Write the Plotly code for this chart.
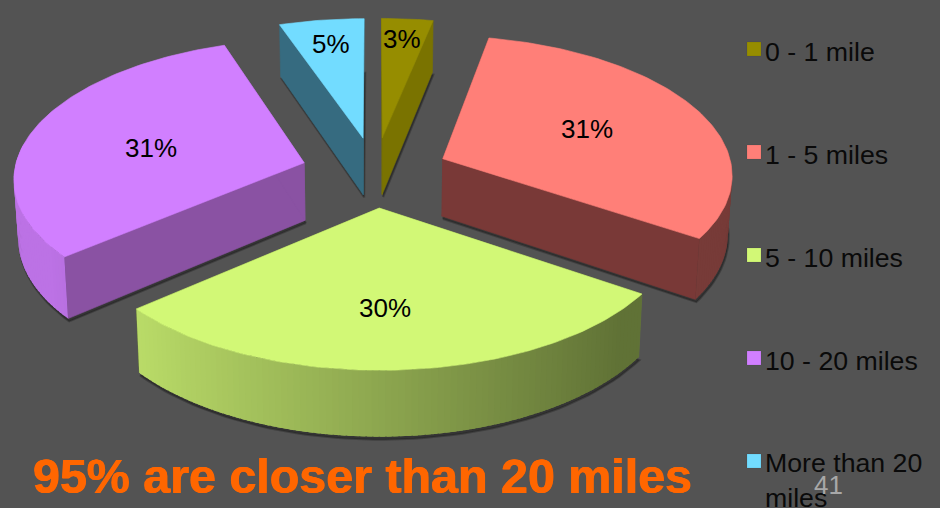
import math
import plotly.graph_objects as go

# ---- data ----
categories = ["0 - 1 mile", "1 - 5 miles", "5 - 10 miles", "10 - 20 miles", "More than 20 miles"]
shares = [3.2, 31.2, 29.4, 30.9, 5.3]
top_colors = ["#968d00", "#ff7f78", "#d2f876", "#d17fff", "#72dcff"]
radial_colors = ["#7a7300", "#793937", "#66783a", "#8a52a3", "#366b80"]
slice_labels = ["3%", "31%", "30%", "31%", "5%"]
label_x = [402, 587, 385, 151, 331]
label_y = [39, 129, 308, 148, 44]
legend_y = [49, 152, 255, 358, 461]
legend_lines = ["0 - 1 mile", "1 - 5 miles", "5 - 10 miles", "10 - 20 miles", "More than 20<br>miles"]
headline = "95% are closer than 20 miles"
page_number = "41"

BG = "#535353"
CX, CY, RX, TILT, DEPTH, EXPLODE, HEIGHT = 375, 172, 290, 138, 9.9, 0.255, 58


def project(x, y, z=0.0):
    s = DEPTH / (DEPTH - y)
    return CX + RX * x * s * (1 - 0.012 * z), CY + TILT * y * s + HEIGHT * z * s


def shade(hex_color, f):
    r, g, b = (int(hex_color[i:i + 2], 16) for i in (1, 3, 5))
    return f"rgb({int(r * f)},{int(g * f)},{int(b * f)})"


def poly(points, color, width=0.6):
    xs = [p[0] for p in points] + [points[0][0]]
    ys = [p[1] for p in points] + [points[0][1]]
    return go.Scatter(x=xs, y=ys, mode="lines", fill="toself", fillcolor=color,
                      line=dict(color=color, width=width),
                      hoverinfo="skip", showlegend=False)


fig = go.Figure()
total = sum(shares)
start = 0.0
spans = []
for v in shares:
    spans.append((start, start + v / total * 2 * math.pi))
    start = spans[-1][1]


def rim(a, ox, oy):
    return ox + math.sin(a), oy - math.cos(a)


order = [0, 4, 1, 3, 2]  # back to front
# soft contact shadows under every slice
for i in order:
    a0, a1 = spans[i]
    mid = (a0 + a1) / 2
    ox, oy = EXPLODE * math.sin(mid), -EXPLODE * math.cos(mid)
    n = max(8, int((a1 - a0) / 0.03))
    pts = [project(ox, oy, 1.03)]
    pts += [project(*rim(a0 + (a1 - a0) * k / n, ox, oy), 1.03) for k in range(n + 1)]
    fig.add_trace(go.Scatter(x=[p[0] + 1 for p in pts] + [pts[0][0] + 1],
                             y=[p[1] + 1 for p in pts] + [pts[0][1] + 1],
                             mode="lines", fill="toself", fillcolor="rgba(30,30,30,0.55)",
                             line=dict(color="rgba(30,30,30,0.35)", width=2),
                             hoverinfo="skip", showlegend=False))

for i in order:
    a0, a1 = spans[i]
    mid = (a0 + a1) / 2
    ox, oy = EXPLODE * math.sin(mid), -EXPLODE * math.cos(mid)
    # radial side walls
    for a in (a0, a1):
        ex, ey = rim(a, ox, oy)
        fig.add_trace(poly([project(ox, oy), project(ex, ey), project(ex, ey, 1), project(ox, oy, 1)],
                           radial_colors[i]))
    # curved outer wall, shaded across the view; segments overlap to hide seams
    step = 0.02
    n = max(1, int((a1 - a0) / step))
    for k in range(n):
        b0 = a0 + (a1 - a0) * k / n
        b1 = min(a1, a0 + (a1 - a0) * (k + 1) / n + 0.015)
        if -math.cos((b0 + b1) / 2) < -0.15:
            continue
        f = min(0.9, max(0.46, 0.67 - 0.28 * math.sin((b0 + b1) / 2)))
        if i == 1:
            f = 0.47
        p0, p1 = rim(b0, ox, oy), rim(b1, ox, oy)
        fig.add_trace(poly([project(*p0), project(*p1), project(*p1, 1), project(*p0, 1)],
                           shade(top_colors[i], f), width=0))
    # top face
    m = max(8, int((a1 - a0) / 0.02))
    pts = [project(ox, oy)] + [project(*rim(a0 + (a1 - a0) * k / m, ox, oy)) for k in range(m + 1)]
    fig.add_trace(poly(pts, top_colors[i]))

# legend swatches
fig.add_trace(go.Scatter(x=[754] * len(categories), y=legend_y, mode="markers",
                         marker=dict(symbol="square", size=14, color=top_colors,
                                     line=dict(color="rgba(0,0,0,0.15)", width=0.5)),
                         hoverinfo="skip", showlegend=False))

anns = []
for t, x, y in zip(slice_labels, label_x, label_y):
    anns.append(dict(x=x, y=y, text=t, xanchor="center", yanchor="middle", showarrow=False,
                     font=dict(family="Liberation Sans", size=26, color="#000000")))
for t, y in zip(legend_lines, legend_y):
    multi = "<br>" in t
    anns.append(dict(x=763, y=y - 15 if multi else y + 3, text=t, xanchor="left",
                     yanchor="top" if multi else "middle", align="left", showarrow=False,
                     font=dict(family="Liberation Sans", size=26.7, color="#0a0a0a")))
anns.append(dict(x=362, y=476, text=f"<b>{headline}</b>", xanchor="center", yanchor="middle", showarrow=False,
                 font=dict(family="Liberation Sans", size=48.4, color="#ff6600",
                           shadow="0.5px 0 0 #ff6600, -0.5px 0 0 #ff6600")))
anns.append(dict(x=828, y=485, text=page_number, xanchor="center", yanchor="middle", showarrow=False,
                 font=dict(family="Liberation Sans", size=26, color="#a8a8a8")))

fig.update_layout(width=940, height=508, margin=dict(l=0, r=0, t=0, b=0),
                  paper_bgcolor=BG, plot_bgcolor=BG, annotations=anns, showlegend=False,
                  xaxis=dict(range=[0, 940], visible=False, fixedrange=True),
                  yaxis=dict(range=[508, 0], visible=False, fixedrange=True))
fig.write_html("out.html", config={"displayModeBar": False},
               post_script="document.body.style.margin='0';document.body.style.overflow='hidden';document.body.style.background='#535353';")
